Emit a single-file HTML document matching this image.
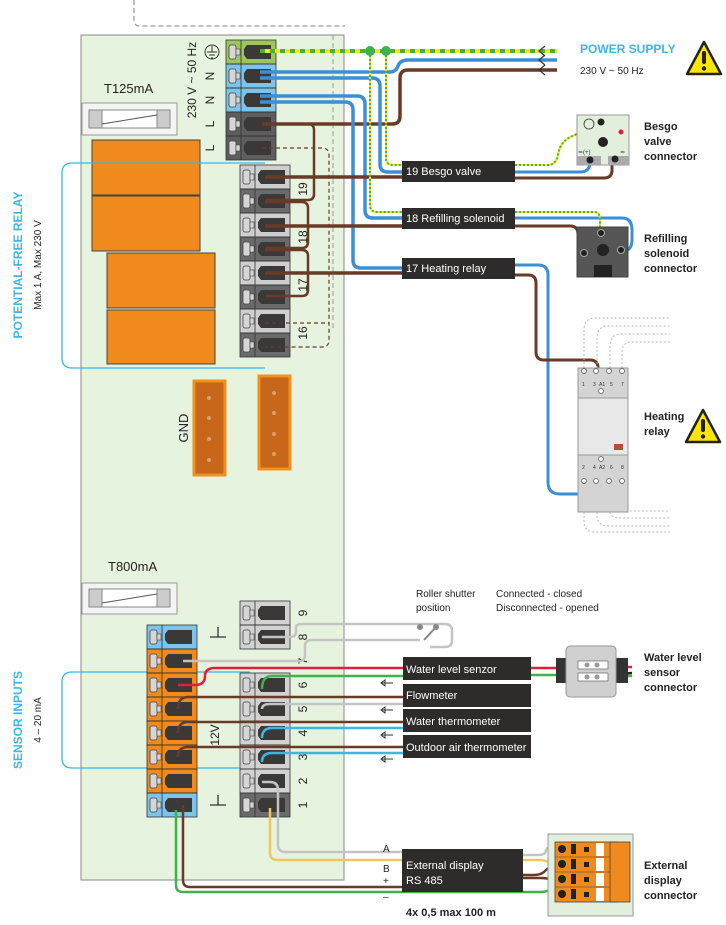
<!DOCTYPE html>
<html><head><meta charset="utf-8"><style>
html,body{margin:0;padding:0;background:#fff}
svg{display:block}
text{font-family:"Liberation Sans",sans-serif}
</style></head><body>
<svg width="726" height="925" viewBox="0 0 726 925" xmlns="http://www.w3.org/2000/svg">
<defs>
<g id="tc">
<rect x="3" y="5" width="7" height="14" rx="2" fill="#d6d6d6" stroke="#444" stroke-width="0.8"/>
<rect x="10" y="9" width="4" height="6" fill="#d6d6d6" stroke="#444" stroke-width="0.6"/>
<path d="M21 5 H45 V19 H21 L18 15 V9 Z" fill="#3b3838"/>
<line x1="15" y1="0" x2="15" y2="24" stroke="#333" stroke-width="0.8"/>
<rect x="0" y="0" width="50" height="24" fill="none" stroke="#333" stroke-width="0.8"/>
</g>
<g id="warn"><path d="M18 2 L35 34 H1 Z" fill="#ffe600" stroke="#222" stroke-width="2.5" stroke-linejoin="round"/><rect x="16" y="11" width="4" height="13" rx="2" fill="#222"/><circle cx="18" cy="28.5" r="2.2" fill="#222"/></g>
</defs>

<!-- top dashed -->
<path d="M134 0 V20 Q134 26 140 26 H345" fill="none" stroke="#9a9a9a" stroke-width="1.2" stroke-dasharray="5 3"/>

<!-- board -->
<rect x="81" y="35" width="263" height="845" fill="#e6f3de" stroke="#8a8a8a" stroke-width="1"/>

<!-- fuse 1 -->
<text x="104" y="93" font-size="13" fill="#222">T125mA</text>
<rect x="82" y="103" width="95" height="32" fill="#f4f4f4" stroke="#999"/>
<rect x="89" y="110" width="81" height="18" fill="#fff" stroke="#888"/>
<rect x="89" y="110" width="13" height="18" fill="#ccc" stroke="#888"/>
<rect x="157" y="110" width="13" height="18" fill="#ccc" stroke="#888"/>
<line x1="102" y1="124" x2="157" y2="115" stroke="#555"/>

<!-- relays -->
<rect x="92" y="140" width="108" height="55" fill="#f08a1c" stroke="#444"/>
<rect x="92" y="196" width="108" height="55" fill="#f08a1c" stroke="#444"/>
<rect x="107" y="253" width="108" height="55" fill="#f08a1c" stroke="#444"/>
<rect x="107" y="310" width="108" height="54" fill="#f08a1c" stroke="#444"/>

<!-- cyan brackets -->
<path d="M265 163 H72 Q62 163 62 173 V358 Q62 368 72 368 H265" fill="none" stroke="#3bb7e6" stroke-width="1.3"/>
<path d="M250 672 H72 Q62 672 62 682 V758 Q62 768 72 768 H250" fill="none" stroke="#3bb7e6" stroke-width="1.3"/>
<text transform="translate(22,265) rotate(-90)" text-anchor="middle" font-size="12" font-weight="bold" fill="#3bb7e6">POTENTIAL-FREE RELAY</text>
<text transform="translate(41,265) rotate(-90)" text-anchor="middle" font-size="10" fill="#222">Max 1 A, Max 230 V</text>
<text transform="translate(22,720) rotate(-90)" text-anchor="middle" font-size="12" font-weight="bold" fill="#3bb7e6">SENSOR INPUTS</text>
<text transform="translate(41,720) rotate(-90)" text-anchor="middle" font-size="10" fill="#222">4 – 20 mA</text>

<!-- GND connectors -->
<rect x="194" y="381" width="31" height="94" fill="#c8661a" stroke="#f0901e" stroke-width="3"/>
<rect x="259" y="376" width="31" height="93" fill="#c8661a" stroke="#f0901e" stroke-width="3"/>
<g fill="#d9a070"><circle cx="209" cy="398" r="2"/><circle cx="209" cy="418" r="2"/><circle cx="209" cy="439" r="2"/><circle cx="209" cy="460" r="2"/><circle cx="274" cy="393" r="2"/><circle cx="274" cy="413" r="2"/><circle cx="274" cy="434" r="2"/><circle cx="274" cy="454" r="2"/></g>
<text transform="translate(188,428) rotate(-90)" text-anchor="middle" font-size="13" fill="#222">GND</text>

<!-- top terminal block -->
<rect x="226" y="40" width="50" height="24" fill="#9cc55c"/>
<rect x="226" y="64" width="50" height="48" fill="#7cc4ea"/>
<rect x="226" y="112" width="50" height="48" fill="#5e5e5e"/>
<use href="#tc" x="226" y="40"/><use href="#tc" x="226" y="64"/><use href="#tc" x="226" y="88"/><use href="#tc" x="226" y="112"/><use href="#tc" x="226" y="136"/>
<text transform="translate(196,80) rotate(-90)" text-anchor="middle" font-size="12" fill="#222">230 V ~ 50 Hz</text>
<circle cx="212" cy="52" r="7" fill="none" stroke="#333"/><path d="M212 46 V52 M207 52 H217 M209 55 H215 M211 58 H213" stroke="#333" fill="none"/>
<g font-size="12" fill="#222">
<text transform="translate(214,76) rotate(-90)" text-anchor="middle">N</text>
<text transform="translate(214,100) rotate(-90)" text-anchor="middle">N</text>
<text transform="translate(214,124) rotate(-90)" text-anchor="middle">L</text>
<text transform="translate(214,148) rotate(-90)" text-anchor="middle">L</text></g>

<!-- relay terminal block -->
<rect x="240" y="165" width="50" height="24" fill="#cfcfcf"/><rect x="240" y="189" width="50" height="24" fill="#6a6a6a"/>
<rect x="240" y="213" width="50" height="24" fill="#cfcfcf"/><rect x="240" y="237" width="50" height="24" fill="#6a6a6a"/>
<rect x="240" y="261" width="50" height="24" fill="#cfcfcf"/><rect x="240" y="285" width="50" height="24" fill="#6a6a6a"/>
<rect x="240" y="309" width="50" height="24" fill="#cfcfcf"/><rect x="240" y="333" width="50" height="24" fill="#6a6a6a"/>
<use href="#tc" x="240" y="165"/><use href="#tc" x="240" y="189"/><use href="#tc" x="240" y="213"/><use href="#tc" x="240" y="237"/><use href="#tc" x="240" y="261"/><use href="#tc" x="240" y="285"/><use href="#tc" x="240" y="309"/><use href="#tc" x="240" y="333"/>
<g font-size="12" fill="#222">
<text transform="translate(307,189) rotate(-90)" text-anchor="middle">19</text>
<text transform="translate(307,237) rotate(-90)" text-anchor="middle">18</text>
<text transform="translate(307,285) rotate(-90)" text-anchor="middle">17</text>
<text transform="translate(307,333) rotate(-90)" text-anchor="middle">16</text></g>
<!-- dashed brown -->
<path d="M262 148 H322 Q329 148 329 155 V340 Q329 347 322 347 H265 M265 323 H329" fill="none" stroke="#6b3a26" stroke-width="1.2" stroke-dasharray="4 3"/>
<path d="M333 35 V330" stroke="#9a9a9a" stroke-width="1" stroke-dasharray="5 3"/>
<!-- brown jumpers -->
<g fill="none" stroke="#6b3a26" stroke-width="2.5">
<path d="M262 124 H308 Q314 124 314 130 V194 Q314 200 308 200 H265"/>
<path d="M265 202 H302 Q308 202 308 208 V242 Q308 248 302 248 H265"/>
<path d="M265 250 H302 Q308 250 308 256 V290 Q308 296 302 296 H265"/>
</g>

<!-- power wires -->
<g fill="none" stroke-width="3.5">
<path d="M262 124 H392 Q400 124 400 116 V78 Q400 70 408 70 H557" stroke="#6b3a26"/>
<path d="M260 72 H390 Q396 72 398 66 Q400 60 408 60 H557" stroke="#3a8fd6"/>
<path d="M260 78 H372 Q380 78 380 86 V164 Q380 172 388 172 H402" stroke="#3a8fd6"/>
<path d="M260 96 H357 Q365 96 365 104 V210 Q365 218 373 218 H402" stroke="#3a8fd6"/>
<path d="M260 102 H345 Q353 102 353 110 V260 Q353 268 361 268 H402" stroke="#3a8fd6"/>
<path d="M265 177 H402 M265 226 H402 M265 273 H402" stroke="#6b3a26"/>
</g>
<path d="M260 51 H557" stroke="#ffe600" stroke-width="4"/>
<path d="M260 51 H557" stroke="#3fb24a" stroke-width="4" stroke-dasharray="5 5"/>
<g fill="none" stroke-width="2"><path d="M370 51 V205 Q370 212 377 212 H402" stroke="#ffe600"/><path d="M370 51 V205 Q370 212 377 212 H402" stroke="#3fb24a" stroke-dasharray="2 2"/>
<path d="M386 51 V158 Q386 165 393 165 H402" stroke="#ffe600"/><path d="M386 51 V158 Q386 165 393 165 H402" stroke="#3fb24a" stroke-dasharray="2 2"/></g>
<circle cx="370" cy="51" r="5" fill="#3fb24a"/><circle cx="386" cy="51" r="5" fill="#3fb24a"/>
<path d="M545 46 L539 51 L545 56 M545 55 L539 60 L545 65 M545 65 L539 70 L545 75" fill="none" stroke="#333" stroke-width="1.2"/>
<text x="580" y="53" font-size="12" font-weight="bold" fill="#3bb7e6">POWER SUPPLY</text>
<text x="580" y="74" font-size="10" fill="#222">230 V ~ 50 Hz</text>
<use href="#warn" x="686" y="40"/>

<!-- wires right of labels -->
<g fill="none" stroke-width="3">
<path d="M515 172 H580 Q590 172 590 162 V158" stroke="#3a8fd6"/>
<path d="M515 178 H604 Q612 178 612 170 V160" stroke="#6b3a26"/>
<path d="M515 218 H622 Q632 218 632 230 V240 Q632 252 620 252" stroke="#3a8fd6"/>
<path d="M515 226 H570 Q578 226 578 234 V248 Q578 256 586 256" stroke="#6b3a26"/>
<path d="M515 265 H538 Q548 265 548 275 V482 Q548 494 560 494 H590 Q598 494 598 484" stroke="#3a8fd6"/>
<path d="M515 275 H528 Q536 275 536 283 V352 Q536 360 544 360 H590 Q598 360 598 368 V380" stroke="#6b3a26"/>
</g>
<g fill="none" stroke-width="2"><path d="M515 165 H548 Q556 165 558 155 Q560 140 575 135 L592 122" stroke="#ffe600"/><path d="M515 165 H548 Q556 165 558 155 Q560 140 575 135 L592 122" stroke="#3fb24a" stroke-dasharray="2 2"/>
<path d="M515 212 H594 Q600 212 600 220 V232" stroke="#ffe600"/><path d="M515 212 H594 Q600 212 600 220 V232" stroke="#3fb24a" stroke-dasharray="2 2"/></g>

<!-- label boxes -->
<g fill="#2e2b2b"><rect x="402" y="161" width="113" height="21"/><rect x="402" y="208" width="113" height="21"/><rect x="402" y="258" width="113" height="21"/></g>
<g font-size="11" fill="#fff"><text x="406" y="175">19 Besgo valve</text><text x="406" y="222">18 Refilling solenoid</text><text x="406" y="272">17 Heating relay</text></g>

<!-- Besgo connector -->
<rect x="577" y="115" width="52" height="50" fill="#e2efdc" stroke="#999"/>
<circle cx="589" cy="124" r="5" fill="none" stroke="#333" stroke-width="0.8"/>
<circle cx="603" cy="142" r="5" fill="#222"/><circle cx="621" cy="132" r="2.5" fill="#e0203a"/>
<rect x="577" y="156" width="24" height="9" fill="#aaa"/><rect x="608" y="156" width="21" height="9" fill="#aaa"/>
<circle cx="590" cy="160" r="3.5" fill="#222"/><circle cx="615" cy="159" r="3.5" fill="#222"/><circle cx="601" cy="122" r="3.5" fill="#222"/>
<text x="578" y="154" font-size="6" fill="#333">≂(+)</text><text x="620" y="154" font-size="6" fill="#333">≂</text>
<g font-size="11" font-weight="bold" fill="#222"><text x="644" y="130">Besgo</text><text x="644" y="145">valve</text><text x="644" y="160">connector</text></g>

<!-- Refilling solenoid connector -->
<rect x="577" y="227" width="51" height="50" fill="#555" stroke="#444"/>
<rect x="594" y="265" width="18" height="12" fill="#222"/>
<circle cx="603" cy="250" r="6" fill="#222"/>
<circle cx="601" cy="233" r="3.5" fill="#222" stroke="#aaa"/><circle cx="584" cy="253" r="3.5" fill="#222" stroke="#aaa"/><circle cx="621" cy="250" r="3.5" fill="#222" stroke="#aaa"/>
<g font-size="11" font-weight="bold" fill="#222"><text x="644" y="242">Refilling</text><text x="644" y="257">solenoid</text><text x="644" y="272">connector</text></g>

<!-- Heating relay -->
<g fill="none" stroke="#bbb" stroke-width="1" stroke-dasharray="2 2">
<path d="M584 368 V330 Q584 318 596 318 H670"/><path d="M597 368 V338 Q597 326 609 326 H670"/><path d="M610 368 V346 Q610 334 622 334 H670"/><path d="M622 368 V352 Q622 342 632 342 H670"/>
<path d="M584 512 V522 Q584 532 596 532 H670"/><path d="M597 512 V516 Q597 526 609 526 H670"/><path d="M610 512 Q610 518 622 518 H670"/><path d="M622 512 Q622 511 632 511 H670"/>
</g>
<rect x="578" y="368" width="50" height="144" fill="#e4e4e4" stroke="#999"/>
<rect x="578" y="368" width="50" height="30" fill="#d4d4d4" stroke="#999"/>
<rect x="578" y="455" width="50" height="57" fill="#d4d4d4" stroke="#999"/>
<rect x="578" y="398" width="50" height="57" fill="#e8e8e8" stroke="#999"/>
<rect x="614" y="444" width="9" height="6" fill="#b0503a"/>
<g fill="#fff" stroke="#555" stroke-width="0.7"><circle cx="584" cy="371" r="2.5"/><circle cx="596" cy="371" r="2.5"/><circle cx="609" cy="371" r="2.5"/><circle cx="622" cy="371" r="2.5"/><circle cx="584" cy="481" r="2.5"/><circle cx="596" cy="481" r="2.5"/><circle cx="609" cy="481" r="2.5"/><circle cx="622" cy="481" r="2.5"/><circle cx="601" cy="391" r="2.5"/><circle cx="601" cy="459" r="2.5"/></g>
<g font-size="5" fill="#333"><text x="582" y="386">1</text><text x="593" y="386">3</text><text x="599" y="386">A1</text><text x="610" y="386">5</text><text x="621" y="386">7</text><text x="582" y="469">2</text><text x="593" y="469">4</text><text x="599" y="469">A2</text><text x="610" y="469">6</text><text x="621" y="469">8</text></g>
<g font-size="11" font-weight="bold" fill="#222"><text x="644" y="420">Heating</text><text x="644" y="435">relay</text></g>
<use href="#warn" x="685" y="408"/>

<!-- fuse 2 -->
<text x="108" y="571" font-size="13" fill="#222">T800mA</text>
<rect x="82" y="583" width="95" height="31" fill="#f4f4f4" stroke="#999"/>
<rect x="89" y="589" width="81" height="18" fill="#fff" stroke="#888"/>
<rect x="89" y="589" width="13" height="18" fill="#ccc" stroke="#888"/>
<rect x="157" y="589" width="13" height="18" fill="#ccc" stroke="#888"/>
<line x1="102" y1="603" x2="157" y2="594" stroke="#555"/>

<!-- sensor left block -->
<rect x="147" y="625" width="50" height="24" fill="#7cc4ea"/>
<rect x="147" y="649" width="50" height="144" fill="#f08a1c"/>
<rect x="147" y="793" width="50" height="24" fill="#7cc4ea"/>
<use href="#tc" x="147" y="625"/><use href="#tc" x="147" y="649"/><use href="#tc" x="147" y="673"/><use href="#tc" x="147" y="697"/><use href="#tc" x="147" y="721"/><use href="#tc" x="147" y="745"/><use href="#tc" x="147" y="769"/><use href="#tc" x="147" y="793"/>
<path d="M210 637 H226 M218 627 V637 M210 805 H226 M218 795 V805" stroke="#333" stroke-width="1.3"/>
<text transform="translate(219,735) rotate(-90)" text-anchor="middle" font-size="12" fill="#222">12V</text>

<!-- sensor right block -->
<rect x="240" y="601" width="50" height="48" fill="#d2d2d2"/>
<rect x="240" y="673" width="50" height="120" fill="#d2d2d2"/>
<rect x="240" y="793" width="50" height="24" fill="#6a6a6a"/>
<use href="#tc" x="240" y="601"/><use href="#tc" x="240" y="625"/>
<use href="#tc" x="240" y="673"/><use href="#tc" x="240" y="697"/><use href="#tc" x="240" y="721"/><use href="#tc" x="240" y="745"/><use href="#tc" x="240" y="769"/><use href="#tc" x="240" y="793"/>
<g font-size="12" fill="#222">
<text transform="translate(307,613) rotate(-90)" text-anchor="middle">9</text>
<text transform="translate(307,637) rotate(-90)" text-anchor="middle">8</text>
<text transform="translate(307,661) rotate(-90)" text-anchor="middle">7</text>
<text transform="translate(307,685) rotate(-90)" text-anchor="middle">6</text>
<text transform="translate(307,709) rotate(-90)" text-anchor="middle">5</text>
<text transform="translate(307,733) rotate(-90)" text-anchor="middle">4</text>
<text transform="translate(307,757) rotate(-90)" text-anchor="middle">3</text>
<text transform="translate(307,781) rotate(-90)" text-anchor="middle">2</text>
<text transform="translate(307,805) rotate(-90)" text-anchor="middle">1</text></g>

<!-- sensor wires -->
<g fill="none" stroke-width="2.5">
<path d="M183 661 H300 Q305 661 305 655 V646 Q305 640 312 640 H420" stroke="#c4c4c4"/>
<path d="M262 637 H290 Q296 637 296 632 V628 Q296 624 302 624 H445 Q452 624 452 631 V640 Q452 647 445 647 H430" stroke="#c4c4c4"/>
<path d="M178 685 H195 Q205 685 205 676 Q205 668 215 668 H403 M531 668 H560 M600 667 H632" stroke="#e0203a"/>
<path d="M262 689 Q262 676 272 676 H403 M531 675 H560 M600 676 H632" stroke="#3fb24a"/>
<path d="M262 709 Q262 704 270 704 H403" stroke="#c4c4c4"/>
<path d="M178 709 Q178 697 188 697 H403" stroke="#6b3a26"/>
<path d="M178 733 Q178 722 188 722 H403" stroke="#6b3a26"/>
<path d="M262 738 Q262 728 272 728 H403" stroke="#3bb7e6"/>
<path d="M178 757 Q178 747 188 747 H403" stroke="#6b3a26"/>
<path d="M262 762 Q262 753 272 753 H403" stroke="#3bb7e6"/>
<path d="M262 782 H270 Q278 782 278 790 V845 Q278 852 286 852 H402 M523 855 H538 Q546 855 546 850 Q548 846 556 846" stroke="#c4c4c4"/>
<path d="M270 808 V853 Q270 860 278 860 H402 M523 860 H538 Q546 860 550 863 Q554 866 560 866" stroke="#f0c85a"/>
<path d="M183 805 V880 Q183 887 190 887 H402 M523 875 H534 Q542 875 546 870 Q550 866 556 866 M523 878 H540 Q548 878 552 880" stroke="#6b3a26"/>
<path d="M176 810 V885 Q176 892 183 892 H540 Q548 892 552 888 H560" stroke="#3fb24a"/>
</g>
<path d="M595 682 Q610 674 632 673" stroke="#222" stroke-width="2.5" fill="none"/>
<!-- roller switch -->
<circle cx="420" cy="627" r="3" fill="#888"/><circle cx="436" cy="627" r="3" fill="#888"/><line x1="436" y1="627" x2="424" y2="640" stroke="#888" stroke-width="2"/>
<g font-size="10" fill="#222"><text x="416" y="597">Roller shutter</text><text x="416" y="611">position</text><text x="496" y="597">Connected - closed</text><text x="496" y="611">Disconnected - opened</text></g>
<!-- small arrows -->
<g fill="none" stroke="#333" stroke-width="1"><path d="M385 680 L381 683 L385 686 Z M381 683 H393"/><path d="M385 707 L381 710 L385 713 Z M381 710 H393"/><path d="M385 732 L381 735 L385 738 Z M381 735 H393"/><path d="M385 756 L381 759 L385 762 Z M381 759 H393"/></g>

<!-- sensor boxes -->
<g fill="#2e2b2b"><rect x="403" y="657" width="128" height="23"/><rect x="403" y="684" width="128" height="23"/><rect x="403" y="709" width="128" height="23"/><rect x="403" y="735" width="128" height="23"/><rect x="402" y="849" width="121" height="43"/></g>
<g font-size="11" fill="#fff"><text x="406" y="673">Water level senzor</text><text x="406" y="699">Flowmeter</text><text x="406" y="725">Water thermometer</text><text x="406" y="751">Outdoor air thermometer</text><text x="406" y="869">External display</text><text x="406" y="884">RS 485</text></g>
<g font-size="10" fill="#222"><text x="383" y="852">A</text><text x="383" y="872">B</text><text x="383" y="884">+</text><text x="383" y="900">–</text></g>
<text x="406" y="916" font-size="11" font-weight="bold" fill="#222">4x 0,5 max 100 m</text>

<!-- water level connector -->
<rect x="556" y="658" width="12" height="25" fill="#333"/><rect x="616" y="658" width="12" height="25" fill="#333"/>
<rect x="566" y="646" width="50" height="51" rx="4" fill="#d0d0d0" stroke="#999"/>
<rect x="578" y="661" width="30" height="8" fill="#fff" stroke="#666" stroke-width="0.7"/><rect x="578" y="673" width="30" height="8" fill="#fff" stroke="#666" stroke-width="0.7"/>
<g fill="#999"><circle cx="587" cy="665" r="2.5"/><circle cx="597" cy="665" r="2.5"/><circle cx="587" cy="677" r="2.5"/><circle cx="597" cy="677" r="2.5"/></g>
<g font-size="11" font-weight="bold" fill="#222"><text x="644" y="661">Water level</text><text x="644" y="676">sensor</text><text x="644" y="691">connector</text></g>

<!-- external display connector -->
<rect x="548" y="834" width="85" height="82" fill="#e2efdc" stroke="#999"/>
<rect x="555" y="842" width="62" height="60" fill="#f08a1c" stroke="#444" stroke-width="0.8"/>
<rect x="610" y="842" width="20" height="60" fill="#f08a1c" stroke="#444" stroke-width="0.8"/>
<g fill="#fff"><rect x="596" y="843" width="8" height="13"/><rect x="596" y="858" width="8" height="13"/><rect x="596" y="873" width="8" height="13"/><rect x="596" y="888" width="8" height="13"/></g>
<g stroke="#444" stroke-width="0.6"><line x1="555" y1="857" x2="610" y2="857"/><line x1="555" y1="872" x2="610" y2="872"/><line x1="555" y1="887" x2="610" y2="887"/></g>
<g fill="#222"><circle cx="562" cy="849" r="4"/><circle cx="562" cy="864" r="4"/><circle cx="562" cy="879" r="4"/><circle cx="562" cy="894" r="4"/><rect x="571" y="844" width="5" height="10"/><rect x="571" y="859" width="5" height="10"/><rect x="571" y="874" width="5" height="10"/><rect x="571" y="889" width="5" height="10"/><rect x="584" y="847" width="5" height="5"/><rect x="584" y="862" width="5" height="5"/><rect x="584" y="877" width="5" height="5"/><rect x="584" y="892" width="5" height="5"/></g>
<g font-size="11" font-weight="bold" fill="#222"><text x="644" y="869">External</text><text x="644" y="884">display</text><text x="644" y="899">connector</text></g>
</svg>
</body></html>
